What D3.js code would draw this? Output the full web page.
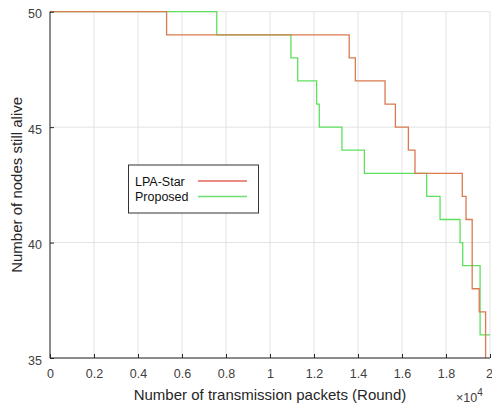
<!DOCTYPE html>
<html><head><meta charset="utf-8">
<script src="https://cdn.jsdelivr.net/npm/d3@7/dist/d3.min.js"></script>
<style>body{margin:0;background:#fff}svg{display:block}text{font-family:"Liberation Sans",Arial,sans-serif}</style>
</head><body>
<svg id="c" width="492" height="408"></svg>
<script>
// Data (x in transmission packets, y = nodes alive), step-after
const lpaX = [0, 5300, 13600, 13880, 15230, 15700, 16290, 16590, 18740, 18910, 19190, 19510, 19800];
const lpaY = [50, 49, 48, 47, 46, 45, 44, 43, 42, 41, 38, 37, 35];
const propX = [0, 7580, 10950, 11260, 12120, 12240, 13270, 14290, 17120, 17730, 18640, 18760, 19550, 20000];
const propY = [50, 49, 48, 47, 46, 45, 44, 43, 42, 41, 40, 39, 36, 36];
const xTicks = [0, 2000, 4000, 6000, 8000, 10000, 12000, 14000, 16000, 18000, 20000];
const xTickLabels = ["0", "0.2", "0.4", "0.6", "0.8", "1", "1.2", "1.4", "1.6", "1.8", "2"];
const yTicks = [35, 40, 45, 50];
const seriesNames = ["LPA-Star", "Proposed"];

const svg = d3.select("#c");
const L = 50, R = 490, T = 11.7, B = 358;
const x = d3.scaleLinear().domain([0, 20000]).range([L, R]);
const y = d3.scaleLinear().domain([35, 50]).range([B, T]);

// grid
const g = svg.append("g");
g.selectAll(".gx").data(xTicks).enter().append("line")
  .attr("x1", d => x(d)).attr("x2", d => x(d)).attr("y1", T).attr("y2", B)
  .attr("stroke", "#e3e3e3").attr("stroke-width", 1);
g.selectAll(".gy").data(yTicks).enter().append("line")
  .attr("x1", L).attr("x2", R).attr("y1", d => y(d)).attr("y2", d => y(d))
  .attr("stroke", "#e3e3e3").attr("stroke-width", 1);

// series
const line = d3.line().curve(d3.curveStepAfter).x(d => x(d[0])).y(d => y(d[1]));
const lpa = lpaX.map((v, i) => [v, lpaY[i]]);
const prop = propX.map((v, i) => [v, propY[i]]);
const colLpa = "#d97a50", colProp = "#5ee05e";
svg.append("path").attr("d", line(prop)).attr("fill", "none").attr("stroke", colProp).attr("stroke-width", 1.3);
svg.append("path").attr("d", line(lpa)).attr("fill", "none").attr("stroke", colLpa).attr("stroke-width", 1.3);

// axes
const xAxis = d3.axisBottom(x).tickValues(xTicks).tickFormat((d, i) => xTickLabels[i]).tickSize(-4).tickPadding(11);
const yAxis = d3.axisLeft(y).tickValues(yTicks).tickSize(-4).tickPadding(8);
const ax = svg.append("g").attr("transform", `translate(0,${B})`).call(xAxis);
const ay = svg.append("g").attr("transform", `translate(${L},0)`).call(yAxis);
[ax, ay].forEach(a => {
  a.select(".domain").attr("stroke", "#262626").attr("d", a === ax ? `M${L},0H${R}` : `M0,${B}V${T}`);
  a.selectAll(".tick line").attr("stroke", "#262626");
  a.selectAll(".tick text").attr("fill", "#404040").style("font-size", "12.5px").style("font-family", "Liberation Sans, Arial, sans-serif");
});
ay.selectAll(".tick text").attr("dy", "0.5em");
ax.selectAll(".tick text").filter((d, i) => i === xTicks.length - 1).attr("dx", "-1");

// labels
svg.append("text").attr("x", (L + R) / 2).attr("y", 400).attr("text-anchor", "middle")
  .attr("fill", "#262626").style("font-size", "15px").text("Number of transmission packets (Round)");
svg.append("text").attr("transform", `translate(22,${(T + B) / 2}) rotate(-90)`).attr("text-anchor", "middle")
  .attr("fill", "#262626").style("font-size", "15px").text("Number of nodes still alive");
const ex = svg.append("text").attr("x", 456).attr("y", 402).attr("fill", "#404040").style("font-size", "12.5px");
ex.append("tspan").text("\u00d710");
ex.append("tspan").attr("dy", -6).style("font-size", "10px").text("4");

// legend
const lg = svg.append("g");
lg.append("rect").attr("x", 128.5).attr("y", 165).attr("width", 130).attr("height", 48)
  .attr("fill", "#fff").attr("stroke", "#333").attr("stroke-width", 1);
const lcols = ["#e3665a", "#6fe06f"];
seriesNames.forEach((n, i) => {
  const yy = 181 + i * 15.5;
  lg.append("text").attr("x", 135).attr("y", yy + 4.5).attr("fill", "#111").style("font-size", "12.5px").text(n);
  lg.append("line").attr("x1", 198).attr("x2", 247).attr("y1", yy).attr("y2", yy)
    .attr("stroke", lcols[i]).attr("stroke-width", 1.3);
});
</script>
</body></html>
